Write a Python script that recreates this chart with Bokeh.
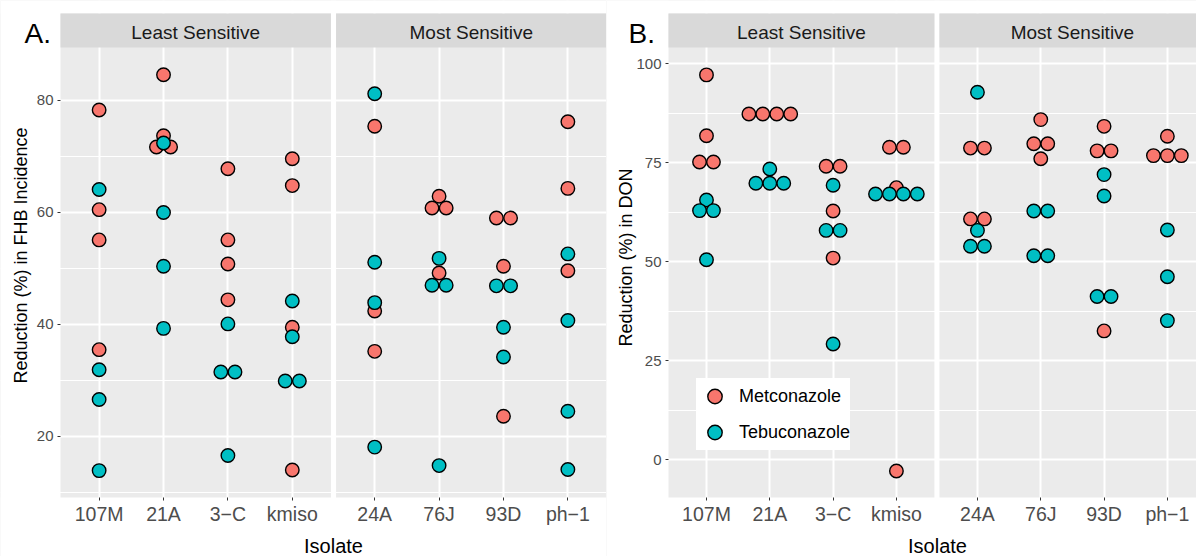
import math
from bokeh.plotting import figure
from bokeh.models import (Range1d, FixedTicker, LinearAxis, Grid,
                          Legend, LegendItem)
from bokeh.layouts import row
from bokeh.core.properties import value
from bokeh.embed import file_html
from bokeh.resources import INLINE

# ---------------------------------------------------------------- data
least_isolates = ["107M", "21A", "3\u2212C", "kmiso"]
most_isolates = ["24A", "76J", "93D", "ph\u22121"]
strip_labels = ["Least Sensitive", "Most Sensitive"]
fungicides = ["Metconazole", "Tebuconazole"]

# Reduction (%) in FHB incidence, one list of replicates per isolate
fhb_met_least = [[78.3, 60.5, 55.1, 35.5], [84.6, 73.7, 71.7, 71.7],
                 [67.8, 55.1, 50.8, 44.4], [69.6, 64.8, 39.5, 14.0]]
fhb_teb_least = [[64.1, 31.9, 26.6, 13.9], [72.4, 60.0, 50.4, 39.3],
                 [40.1, 31.5, 31.5, 16.6], [44.2, 37.8, 29.9, 29.9]]
fhb_met_most = [[75.4, 42.4, 35.2], [62.9, 60.8, 60.8, 49.2],
                [59.0, 59.0, 50.4, 23.6], [76.2, 64.3, 49.6]]
fhb_teb_most = [[81.2, 51.1, 43.9, 18.1], [51.8, 47.0, 47.0, 14.8],
                [46.9, 46.9, 39.5, 34.2], [52.6, 40.7, 24.5, 14.1]]

# Reduction (%) in DON
don_met_least = [[97.2, 81.8, 75.2, 75.2], [87.3, 87.3, 87.3, 87.3],
                 [74.1, 74.1, 62.8, 50.9], [78.9, 78.9, 68.7, -2.9]]
don_teb_least = [[65.6, 62.9, 62.9, 50.5], [73.4, 69.8, 69.8, 69.8],
                 [69.3, 57.9, 57.9, 29.2], [67.1, 67.1, 67.1, 67.1]]
don_met_most = [[78.7, 78.7, 60.8, 60.8], [85.9, 79.8, 79.8, 76.0],
                [84.2, 78.0, 78.0, 32.5], [81.7, 76.8, 76.8, 76.8]]
don_teb_most = [[92.8, 57.9, 53.9, 53.9], [62.8, 62.8, 51.5, 51.5],
                [72.0, 66.6, 41.2, 41.2], [58.0, 46.2, 35.1]]

fhb_ticks = [20, 40, 60, 80]
fhb_minor = [10, 30, 50, 70]
don_ticks = [0, 25, 50, 75, 100]
don_minor = [12.5, 37.5, 62.5, 87.5]

# ---------------------------------------------------------------- style
FONT = "Liberation Sans"
COLORS = {"Metconazole": "#F8766D", "Tebuconazole": "#00BFC4"}
PANEL_BG = "#EBEBEB"
STRIP_BG = "#D9D9D9"
STEP = 0.22          # horizontal spacing of stacked dots (category units)
PAD = 0.6            # discrete axis expansion on each side of a facet
GAP = 0.08           # white gutter between the two facets
H = 556
# page layout in pixels (top of strip, top / bottom of the panels)
STRIP_TOP_PX, PANEL_TOP_PX, PANEL_BOTTOM_PX = 13, 47, 497


def stack(groups, origin):
    """Centre-stack identical values side by side, like a dot plot."""
    xs, ys = [], []
    for i, vals in enumerate(groups):
        for v in dict.fromkeys(vals):
            n = vals.count(v)
            for k in range(n):
                xs.append(origin + i + (k - (n - 1) / 2) * STEP)
                ys.append(v)
    return xs, ys


def txt(p, x, y, s, size, align="center", angle=0.0, color="black"):
    p.text(x=[x], y=[y], text=[s], angle=angle, text_align=align,
           text_baseline="middle", text_font=value(FONT),
           text_font_size=value(size), text_color=color)


def panel(met_least, teb_least, met_most, teb_most, y_lo, y_hi,
          ticks, minor, width, left_px, x_end, y_title, tag,
          tag_px, ytitle_px, xtitle_px):
    n1 = len(least_isolates)
    f1_right = n1 - 1 + PAD
    f2_left = f1_right + GAP
    origin2 = f2_left + PAD
    f2_right = origin2 + len(most_isolates) - 1 + PAD

    # pixel <-> data scale so that the whole canvas is the drawing area
    ux = (width - left_px) / (x_end + PAD)
    uy = (PANEL_BOTTOM_PX - PANEL_TOP_PX) / (y_hi - y_lo)
    x0 = -PAD - left_px / ux
    y0 = y_lo - (H - PANEL_BOTTOM_PX) / uy
    y1 = y_hi + PANEL_TOP_PX / uy
    strip_top = y_hi + (PANEL_TOP_PX - STRIP_TOP_PX) / uy

    def X(px):
        return x0 + px / ux

    def Y(py):
        return y1 - py / uy

    p = figure(width=width, height=H, output_backend="svg",
               toolbar_location=None, x_axis_type=None, y_axis_type=None,
               x_range=Range1d(x0, x_end), y_range=Range1d(y0, y1),
               min_border_left=0, min_border_right=0,
               min_border_top=0, min_border_bottom=0,
               background_fill_color=PANEL_BG, border_fill_color="white",
               outline_line_color=None)

    xpos = list(range(n1)) + [origin2 + i for i in range(len(most_isolates))]
    names = least_isolates + most_isolates
    xt = FixedTicker(ticks=xpos)
    yt = FixedTicker(ticks=ticks, minor_ticks=minor)

    p.add_layout(Grid(dimension=0, ticker=xt, grid_line_color="white",
                      grid_line_width=2))
    p.add_layout(Grid(dimension=1, ticker=yt, grid_line_color="white",
                      grid_line_width=2, minor_grid_line_color="white",
                      minor_grid_line_width=1))

    # white margins and the gutter between facets
    p.quad(left=[x0, x0, x0, f1_right],
           right=[-PAD, x_end, x_end, f2_left],
           bottom=[y0, y0, strip_top, y0],
           top=[y1, y_lo, y1, y1],
           fill_color="white", line_color=None)
    # facet strips
    p.quad(left=[-PAD, f2_left], right=[f1_right, max(x_end, f2_right)],
           bottom=[y_hi] * 2, top=[strip_top] * 2,
           fill_color=STRIP_BG, line_color=None)
    p.text(x=[(f1_right - PAD) / 2, (f2_left + f2_right) / 2],
           y=[Y(31.5)] * 2, text=strip_labels,
           text_align="center", text_baseline="middle",
           text_font=value(FONT), text_font_size=value("19px"),
           text_color="#1A1A1A")

    # axes pinned to the panel edges
    xa = LinearAxis(ticker=xt, fixed_location=y_lo,
                    major_label_overrides={x: s for x, s in zip(xpos, names)},
                    axis_line_color=None, major_tick_line_color="#333333",
                    major_tick_in=0, major_tick_out=3, minor_tick_line_color=None,
                    major_label_standoff=2,
                    major_label_text_font=FONT,
                    major_label_text_font_size="19.5px",
                    major_label_text_color="#4D4D4D")
    p.add_layout(xa, "below")
    ya = LinearAxis(ticker=yt, fixed_location=-PAD,
                    axis_line_color=None, major_tick_line_color="#333333",
                    major_tick_in=0, major_tick_out=3,
                    minor_tick_line_color=None,
                    major_label_standoff=3,
                    major_label_text_font=FONT,
                    major_label_text_font_size="15px",
                    major_label_text_color="#4D4D4D")
    p.add_layout(ya, "left")

    # titles and panel tag
    txt(p, X(ytitle_px[0]), Y(ytitle_px[1]), y_title, "18px",
        angle=math.pi / 2)
    txt(p, X(xtitle_px), Y(545), "Isolate", "20px")
    txt(p, X(tag_px), Y(32.5), tag, "28px", align="left")

    rends = []
    for name, g1, g2 in zip(fungicides, [met_least, teb_least],
                            [met_most, teb_most]):
        x1, yv1 = stack(g1, 0)
        x2, yv2 = stack(g2, origin2)
        r = p.scatter(x1 + x2, yv1 + yv2, marker="circle", size=13.5,
                      fill_color=COLORS[name], line_color="black",
                      line_width=1.4)
        rends.append(r)
    return p, rends


# ---- panel A: FHB incidence
pa, _ = panel(fhb_met_least, fhb_teb_least, fhb_met_most, fhb_teb_most,
              9.1, 89.46, fhb_ticks, fhb_minor,
              width=606, left_px=60, x_end=7.88,
              y_title="Reduction (%) in FHB Incidence", tag="A.",
              tag_px=24, ytitle_px=(20, 255), xtitle_px=333)

# ---- panel B: DON
pb, brs = panel(don_met_least, don_teb_least, don_met_most, don_teb_most,
                -9.6, 104.12, don_ticks, don_minor,
                width=590, left_px=62, x_end=7.74,
                y_title="Reduction (%) in DON", tag="B.",
                tag_px=22, ytitle_px=(19, 257), xtitle_px=331)

legend = Legend(items=[LegendItem(label=n, renderers=[r])
                       for n, r in zip(fungicides, brs)],
                location=(90, 106), orientation="vertical",
                background_fill_color="white", background_fill_alpha=1,
                border_line_color=None, padding=8, spacing=0, margin=0,
                glyph_width=37, glyph_height=36, label_height=36,
                label_standoff=6, label_text_font=FONT,
                label_text_font_size="18px", label_text_color="black")
pb.add_layout(legend)

layout = row(pa, pb, spacing=0)
open("out.html", "w").write(file_html(layout, INLINE))
